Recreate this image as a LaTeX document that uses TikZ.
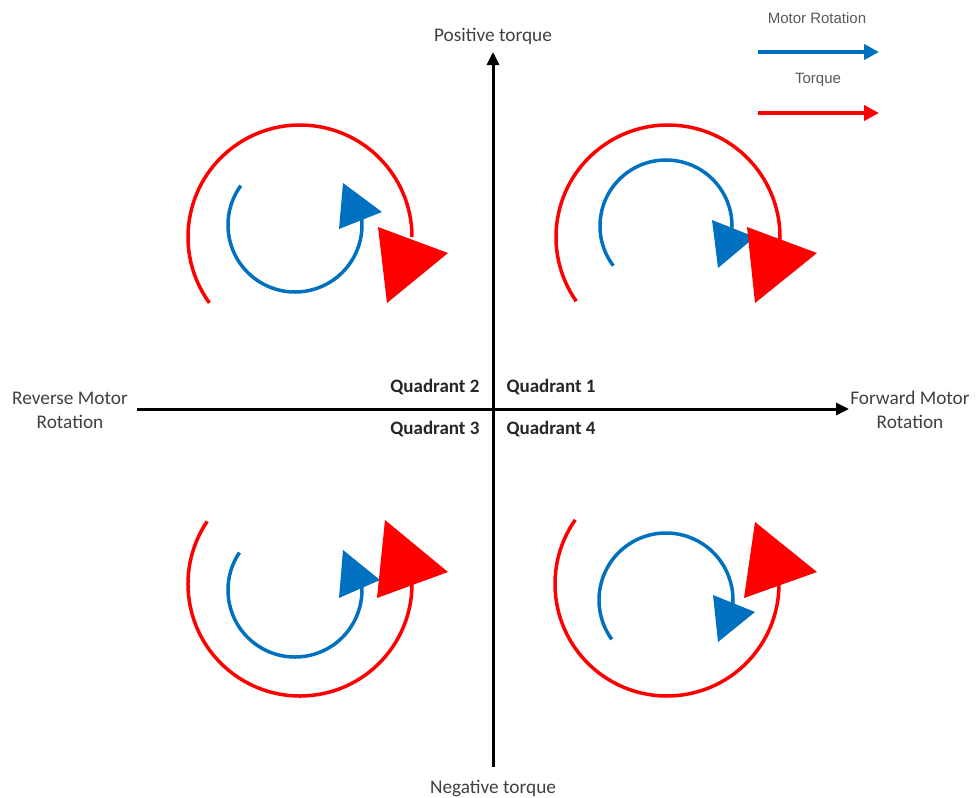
\documentclass[tikz,border=0pt]{standalone}
\usepackage{fontspec}
\setmainfont{Carlito}
\newfontfamily\legendfont{Liberation Sans}
\usetikzlibrary{arrows.meta}
\definecolor{torquered}{RGB}{255,0,0}
\definecolor{motorblue}{RGB}{0,112,192}

\begin{document}
\begin{tikzpicture}[x=1pt, y=1pt, >={Triangle[length=13pt,width=12pt]},
    axis/.style={line width=3pt, black},
    torque/.style={line width=3.5pt, torquered},
    motor/.style={line width=3.5pt, motorblue},
    axislabel/.style={font=\fontsize{19.3}{24}\selectfont, text=black!75, align=center},
    quadlabel/.style={font=\fontsize{19}{24}\selectfont\bfseries, text=black!85},
    legendlabel/.style={font=\legendfont\fontsize{15}{16}\selectfont, text=black!65}]
    \useasboundingbox (0,0) rectangle (978,-798);

    % axes
    \coordinate (west) at (137,-409);
    \coordinate (east) at (849,-409);
    \coordinate (south) at (493,-767);
    \coordinate (north) at (493,-52);
    \draw[axis, ->] (west) -- (east);
    \draw[axis, ->] (south) -- (north);

    \node[axislabel] (postorque) at (493,-36) {Positive torque};
    \node[axislabel] (negtorque) at (493,-788) {Negative torque};
    \node[axislabel] (reverse) at (70,-410) {Reverse Motor\\Rotation};
    \node[axislabel] (forward) at (910,-410) {Forward Motor\\Rotation};

    \node[quadlabel, anchor=east] (quad2) at (483,-387) {Quadrant 2};
    \node[quadlabel, anchor=west] (quad1) at (503,-387) {Quadrant 1};
    \node[quadlabel, anchor=east] (quad3) at (483,-429) {Quadrant 3};
    \node[quadlabel, anchor=west] (quad4) at (503,-429) {Quadrant 4};

    % legend
    \node[legendlabel] (motorkey) at (817,-18) {Motor Rotation};
    \coordinate (motorfrom) at (758,-52);
    \coordinate (motorto) at (879,-52);
    \draw[motor, line width=4pt, -{Triangle[length=15pt,width=15pt]}] (motorfrom) -- (motorto);
    \node[legendlabel] (torquekey) at (818,-80) {Torque};
    \coordinate (torquefrom) at (758,-113);
    \coordinate (torqueto) at (879,-113);
    \draw[torque, line width=4pt, -{Triangle[length=15pt,width=15pt]}] (torquefrom) -- (torqueto);

    % quadrant 1
    \draw[motor] (666,-226) ++(217:66pt) arc[start angle=217, end angle=-5, radius=66pt];
    \fill[motorblue] (712,-220) -- (755,-237) -- (718,-268) -- cycle;
    \draw[torque] (668,-237) ++(215:112pt) arc[start angle=215, end angle=-2, radius=112pt];
    \fill[torquered] (747,-227) -- (817,-253) -- (755,-303) -- cycle;

    % quadrant 2
    \draw[motor] (295,-225) ++(144:67pt) arc[start angle=144, end angle=366, radius=67pt];
    \fill[motorblue] (343,-183) -- (382,-212) -- (339,-229) -- cycle;
    \draw[torque] (300,-237) ++(216:112pt) arc[start angle=216, end angle=0, radius=112pt];
    \fill[torquered] (378,-227) -- (448,-253) -- (387,-303) -- cycle;

    % quadrant 3
    \draw[motor] (295,-590) ++(146:67pt) arc[start angle=146, end angle=363, radius=67pt];
    \fill[motorblue] (343,-550) -- (380,-580) -- (339,-598) -- cycle;
    \draw[torque] (300,-584) ++(146:112pt) arc[start angle=146, end angle=360, radius=112pt];
    \fill[torquered] (385,-520) -- (448,-572) -- (377,-598) -- cycle;

    % quadrant 4
    \draw[motor] (666,-600) ++(216:67pt) arc[start angle=216, end angle=-5, radius=67pt];
    \fill[motorblue] (713,-595) -- (755,-612) -- (718,-642) -- cycle;
    \draw[torque] (667,-584) ++(145:112pt) arc[start angle=145, end angle=360, radius=112pt];
    \fill[torquered] (755,-522) -- (817,-572) -- (744,-598) -- cycle;
\end{tikzpicture}
\end{document}
